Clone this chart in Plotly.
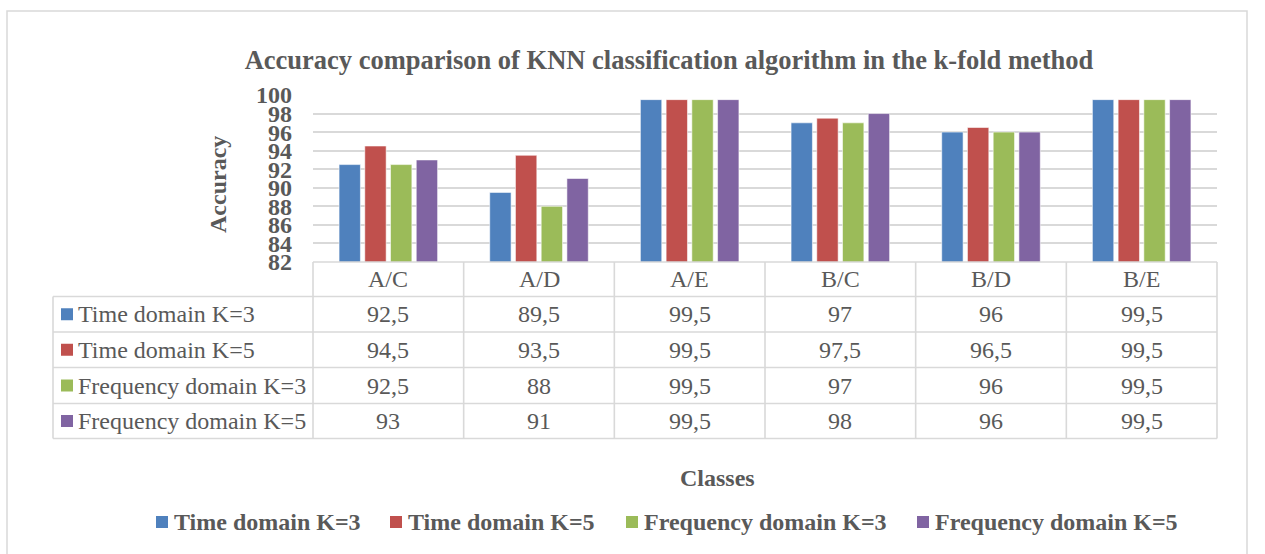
import plotly.graph_objects as go

# ---------------- data ----------------
categories = ["A/C", "A/D", "A/E", "B/C", "B/D", "B/E"]
series_names = ["Time domain K=3", "Time domain K=5",
                "Frequency domain K=3", "Frequency domain K=5"]
time_k3 = [92.5, 89.5, 99.5, 97, 96, 99.5]
time_k5 = [94.5, 93.5, 99.5, 97.5, 96.5, 99.5]
freq_k3 = [92.5, 88, 99.5, 97, 96, 99.5]
freq_k5 = [93, 91, 99.5, 98, 96, 99.5]
y_ticks = [82, 84, 86, 88, 90, 92, 94, 96, 98, 100]
title_text = "Accuracy comparison of KNN classification algorithm in the k-fold method"
y_title = "Accuracy"
x_title = "Classes"

series_values = [time_k3, time_k5, freq_k3, freq_k5]
colors = ["#4F81BD", "#C0504D", "#9BBB59", "#8064A2"]

# ---------------- layout helpers (pixel geometry) ----------------
W, H = 1265, 554
L, R, T, B = 313, 1217, 95, 262
FONT = "Liberation Serif, Times New Roman, serif"
TXT = "#595959"
GRID = "#D9D9D9"


def px(x):
    return (x - L) / (R - L)


def py(y):
    return (B - y) / (B - T)


def fmt(v):
    s = ("%g" % v)
    return s.replace(".", ",")


fig = go.Figure()
for name, vals, col in zip(series_names, series_values, colors):
    fig.add_trace(go.Bar(
        x=categories, y=vals, name=name,
        marker=dict(color=col, line=dict(color="rgba(255,255,255,0.55)", width=1)),
        showlegend=False,
    ))

shapes = []
annotations = []

# outer chart border
shapes.append(dict(type="rect", xref="paper", yref="paper",
                   x0=px(7), x1=px(1247), y0=py(11), y1=py(600),
                   line=dict(color=GRID, width=1.5), fillcolor="rgba(0,0,0,0)",
                   layer="below"))

# data table
row_edges = [262, 296.5, 332, 367.5, 403.5, 438.5]
label_left = 53
col_w = (R - L) / len(categories)
lw = 1.6
shapes.append(dict(type="line", xref="paper", yref="paper",
                   x0=px(L), x1=px(R), y0=py(row_edges[0]), y1=py(row_edges[0]),
                   line=dict(color=GRID, width=lw)))
for ye in row_edges[1:]:
    shapes.append(dict(type="line", xref="paper", yref="paper",
                       x0=px(label_left), x1=px(R), y0=py(ye), y1=py(ye),
                       line=dict(color=GRID, width=lw)))
for i in range(len(categories) + 1):
    xe = L + i * col_w
    shapes.append(dict(type="line", xref="paper", yref="paper",
                       x0=px(xe), x1=px(xe), y0=py(row_edges[0]), y1=py(row_edges[-1]),
                       line=dict(color=GRID, width=lw)))
shapes.append(dict(type="line", xref="paper", yref="paper",
                   x0=px(label_left), x1=px(label_left), y0=py(row_edges[1]), y1=py(row_edges[-1]),
                   line=dict(color=GRID, width=lw)))

TABLE_SIZE = 24
hdr_y = (row_edges[0] + row_edges[1]) / 2
for c in categories:
    annotations.append(dict(x=c, xref="x", y=py(hdr_y), yref="paper",
                            text=c, showarrow=False, xanchor="center", yanchor="middle",
                            font=dict(family=FONT, size=TABLE_SIZE, color=TXT)))
for r, (name, vals, col) in enumerate(zip(series_names, series_values, colors)):
    yc = (row_edges[r + 1] + row_edges[r + 2]) / 2
    shapes.append(dict(type="rect", xref="paper", yref="paper",
                       x0=px(61), x1=px(73), y0=py(yc - 6), y1=py(yc + 6),
                       fillcolor=col, line=dict(width=0)))
    annotations.append(dict(x=px(76), xref="paper", y=py(yc), yref="paper",
                            text=name, showarrow=False, xanchor="left", yanchor="middle",
                            font=dict(family=FONT, size=TABLE_SIZE, color=TXT)))
    for c, v in zip(categories, vals):
        annotations.append(dict(x=c, xref="x", y=py(yc), yref="paper",
                                text=fmt(v), showarrow=False, xanchor="center", yanchor="middle",
                                font=dict(family=FONT, size=TABLE_SIZE, color=TXT)))

# axis titles
annotations.append(dict(x=px(218), xref="paper", y=py(185), yref="paper",
                        text=y_title, textangle=-90, showarrow=False,
                        xanchor="center", yanchor="middle",
                        font=dict(family=FONT, size=24, color=TXT, weight="bold")))
annotations.append(dict(x=px(717), xref="paper", y=py(478), yref="paper",
                        text=x_title, showarrow=False, xanchor="center", yanchor="middle",
                        font=dict(family=FONT, size=24, color=TXT, weight="bold")))

# custom legend
legend_x = [156, 390, 626, 917]
leg_y = 522
for name, col, lx in zip(series_names, colors, legend_x):
    shapes.append(dict(type="rect", xref="paper", yref="paper",
                       x0=px(lx), x1=px(lx + 12), y0=py(leg_y - 6), y1=py(leg_y + 6),
                       fillcolor=col, line=dict(width=0)))
    annotations.append(dict(x=px(lx + 16), xref="paper", y=py(leg_y), yref="paper",
                            text=name, showarrow=False, xanchor="left", yanchor="middle",
                            font=dict(family=FONT, size=24, color=TXT, weight="bold")))

fig.update_layout(
    width=W, height=H,
    margin=dict(l=L, r=W - R, t=T, b=H - B, pad=0),
    paper_bgcolor="white", plot_bgcolor="white",
    barmode="group", bargap=0.317, bargroupgap=0.17,
    title=dict(text=title_text, x=669 / W, xanchor="center",
               y=1 - 60 / H, yanchor="middle", yref="container",
               font=dict(family=FONT, size=26.5, color=TXT, weight="bold")),
    xaxis=dict(showticklabels=False, showgrid=False, zeroline=False, showline=False,
               ticks="", range=[-0.5, len(categories) - 0.5]),
    yaxis=dict(range=[82, 100], tickvals=y_ticks, ticktext=[str(t) for t in y_ticks],
               showgrid=True, gridcolor=GRID, gridwidth=1.5, zeroline=False,
               showline=False, ticks="", ticklabelstandoff=20,
               tickfont=dict(family=FONT, size=24, color=TXT, weight="bold")),
    shapes=shapes, annotations=annotations,
)

fig.write_html("out.html")
